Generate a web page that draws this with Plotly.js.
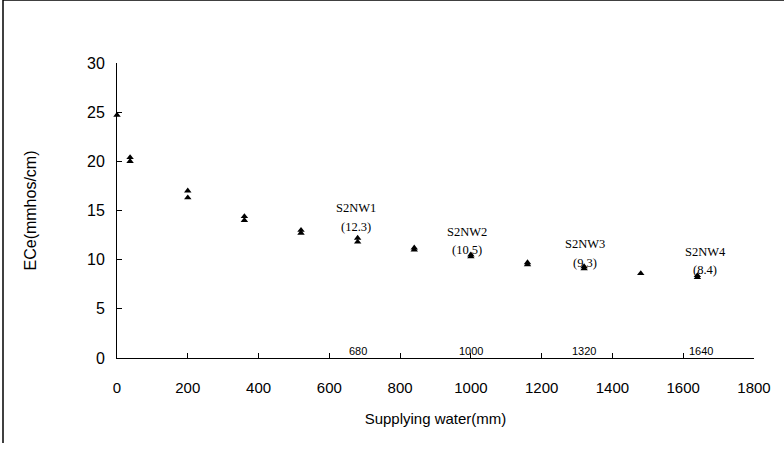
<!DOCTYPE html>
<html>
<head>
<meta charset="utf-8">
<script src="https://cdn.plot.ly/plotly-3.0.1.min.js"></script>
<style>body{margin:0;background:#fff}#chart{width:784px;height:451px}</style>
</head>
<body>
<div id="chart"></div>
<script>
// Supplying water (mm) and ECe (mmhos/cm), two replicate readings per point
const water1 = [0, 37, 200, 360, 520, 680, 840, 1000, 1160, 1320, 1480, 1640];
const ece1   = [24.7, 20.4, 17.0, 14.4, 13.0, 12.2, 11.2, 10.5, 9.7, 9.3, 8.6, 8.4];
const water2 = [37, 200, 360, 520, 680, 840, 1000, 1160, 1320, 1640];
const ece2   = [20.0, 16.3, 14.0, 12.7, 11.8, 11.0, 10.3, 9.5, 9.1, 8.2];

// Treatment labels
const labelNames  = ['S2NW1', 'S2NW2', 'S2NW3', 'S2NW4'];
const labelValues = ['(12.3)', '(10.5)', '(9.3)', '(8.4)'];
const labelX      = [675, 990, 1322, 1662];
const nameY       = [15.3, 12.8, 11.6, 10.8];
const valueY      = [13.3, 11.0, 9.7, 9.0];

// Small markers on the x axis line
const axisMarks  = ['680', '1000', '1320', '1640'];
const axisMarkX  = [680, 1000, 1320, 1650];

const xTicks = [0, 200, 400, 600, 800, 1000, 1200, 1400, 1600, 1800];
const yTicks = [0, 5, 10, 15, 20, 25, 30];

const mk = {symbol: 'triangle-up', size: 6.5, color: '#000'};
const traces = [
  {x: water1, y: ece1, mode: 'markers', type: 'scatter', marker: mk, cliponaxis: false, showlegend: false},
  {x: water2, y: ece2, mode: 'markers', type: 'scatter', marker: mk, cliponaxis: false, showlegend: false}
];

const serif = {family: 'Liberation Serif, serif', size: 12.5, color: '#000'};
const annotations = [];
labelNames.forEach((n, i) => {
  annotations.push({x: labelX[i], y: nameY[i], text: n, showarrow: false, font: serif});
  annotations.push({x: labelX[i], y: valueY[i], text: labelValues[i], showarrow: false, font: serif});
});
axisMarks.forEach((m, i) => {
  annotations.push({x: axisMarkX[i], y: 0, yanchor: 'bottom', yshift: -1, text: m, showarrow: false,
    font: {family: 'Liberation Sans, sans-serif', size: 11, color: '#000'}});
});

const tickFont = {family: 'Liberation Sans, sans-serif', size: 15, color: '#000'};

const layout = {
  width: 784, height: 451,
  margin: {l: 117, r: 30, t: 63, b: 93},
  paper_bgcolor: '#fff', plot_bgcolor: '#fff',
  xaxis: {
    range: [0, 1800], tickvals: xTicks, ticktext: xTicks.map(String),
    showline: true, linecolor: '#000', linewidth: 1,
    ticks: 'inside', ticklen: 5, tickcolor: '#000',
    showgrid: false, zeroline: false, tickfont: tickFont, ticklabelstandoff: 16,
    title: {text: 'Supplying water(mm)', font: tickFont, standoff: 18}
  },
  yaxis: {
    range: [0, 30], tickvals: yTicks, ticktext: yTicks.map(String),
    showline: true, linecolor: '#000', linewidth: 1,
    ticks: 'inside', ticklen: 5, tickcolor: '#000',
    showgrid: false, zeroline: false, tickfont: {family: 'Liberation Sans, sans-serif', size: 16, color: '#000'}, ticklabelstandoff: 8,
    title: {text: 'ECe(mmhos/cm)', font: {family: 'Liberation Sans, sans-serif', size: 16, color: '#000'}, standoff: 46}
  },
  annotations: annotations,
  shapes: [
    {type: 'line', xref: 'paper', yref: 'paper', x0: -114/637, x1: 667/637, y0: 358/295, y1: 358/295, line: {color: '#000', width: 1.5}},
    {type: 'line', xref: 'paper', yref: 'paper', x0: -114/637, x1: -114/637, y0: 358/295, y1: -85/295, line: {color: '#000', width: 1.5}}
  ]
};

Plotly.newPlot('chart', traces, layout, {displayModeBar: false, staticPlot: true});
</script>
</body>
</html>
